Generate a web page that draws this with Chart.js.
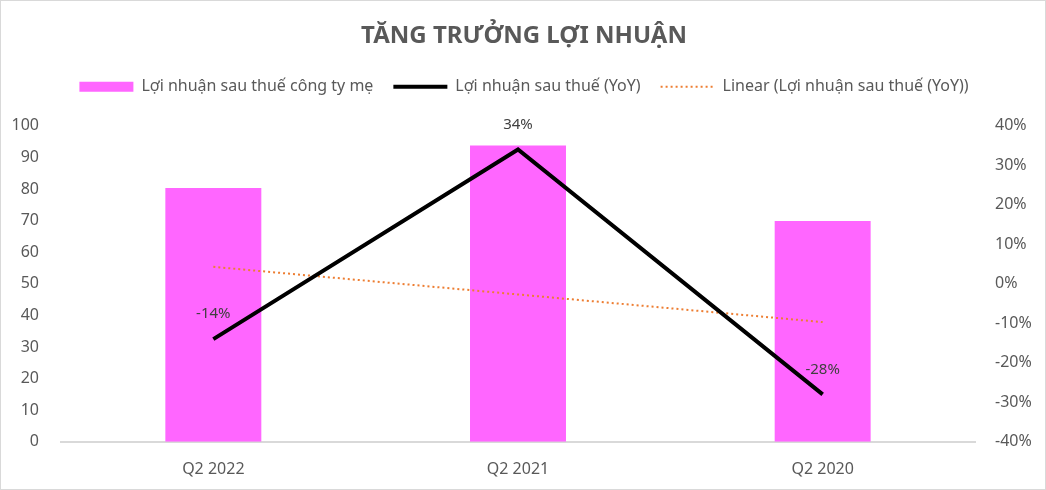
<!DOCTYPE html>
<html>
<head>
<meta charset="utf-8">
<script src="https://cdn.jsdelivr.net/npm/chart.js@4.4.0/dist/chart.umd.min.js"></script>
<style>
  html, body { margin: 0; padding: 0; background: #fff; }
  #wrap { width: 1044px; height: 488px; border: 1px solid #d9d9d9; }
</style>
</head>
<body>
<div id="wrap"><canvas id="myChart" width="1044" height="488"></canvas></div>
<script>
// data
const quarters = ['Q2 2022', 'Q2 2021', 'Q2 2020'];
const profitParent = [80.3, 93.8, 69.9];
const profitYoY = [-14, 34, -28];
const trendYoY = [4.3, -2.7, -9.7];
const yoyLabels = ['-14%', '34%', '-28%'];

const grey = '#595959';
Chart.defaults.font.family = '"Noto Sans", sans-serif';
Chart.defaults.color = grey;

// labels above the YoY points
const pointLabels = {
    id: 'pointLabels',
    afterDatasetsDraw(chart) {
        const ctx = chart.ctx;
        const meta = chart.getDatasetMeta(1);
        ctx.save();
        ctx.font = '15px "Noto Sans", sans-serif';
        ctx.fillStyle = '#404040';
        ctx.textAlign = 'center';
        ctx.textBaseline = 'middle';
        meta.data.forEach((pt, i) => {
            ctx.fillText(yoyLabels[i], pt.x, pt.y - 25);
        });
        ctx.restore();
    }
};

// some room under the legend
const legendGap = {
    id: 'legendGap',
    beforeInit(chart) {
        const fit = chart.legend.fit;
        chart.legend.fit = function () {
            fit.call(this);
            this.height += 21;
        };
    }
};

const myChart = document.getElementById('myChart');
new Chart(myChart, {
    type: 'bar',
    data: {
        labels: quarters,
        datasets: [{
            label: 'Lợi nhuận sau thuế công ty mẹ',
            data: profitParent,
            backgroundColor: '#FF66FF',
            barPercentage: 0.63,
            categoryPercentage: 0.5,
            yAxisID: 'y',
            order: 3
        }, {
            type: 'line',
            label: 'Lợi nhuận sau thuế (YoY)',
            data: profitYoY,
            borderColor: '#000',
            backgroundColor: '#000',
            borderWidth: 4,
            pointRadius: 0,
            tension: 0,
            yAxisID: 'y1',
            order: 1
        }, {
            type: 'line',
            label: 'Linear (Lợi nhuận sau thuế (YoY))',
            data: trendYoY,
            borderColor: '#ED7D31',
            backgroundColor: '#ED7D31',
            borderWidth: 2,
            borderDash: [2, 3],
            pointRadius: 0,
            tension: 0,
            yAxisID: 'y1',
            order: 2
        }]
    },
    options: {
        responsive: false,
        animation: false,
        layout: { padding: { left: 6, right: 4, top: 11, bottom: 0 } },
        plugins: {
            title: {
                display: true,
                text: 'TĂNG TRƯỞNG LỢI NHUẬN',
                color: grey,
                font: { size: 24, weight: 'bold' },
                padding: { top: 10, bottom: 8 }
            },
            legend: {
                labels: {
                    color: grey,
                    font: { size: 16 },
                    usePointStyle: true,
                    pointStyleWidth: 54,
                    boxHeight: 10,
                    padding: 20,
                    generateLabels(chart) {
                        const items = Chart.defaults.plugins.legend.labels.generateLabels(chart);
                        items.sort((a, b) => a.datasetIndex - b.datasetIndex);
                        items.forEach(it => {
                            const ds = chart.data.datasets[it.datasetIndex];
                            it.pointStyle = ds.type === 'line' ? 'line' : 'rect';
                            it.lineWidth = ds.type === 'line' ? ds.borderWidth : 0;
                            it.lineDash = ds.borderDash || [];
                            it.strokeStyle = ds.borderColor || ds.backgroundColor;
                        });
                        return items;
                    }
                }
            },
            tooltip: { enabled: false }
        },
        scales: {
            x: {
                grid: { display: false },
                border: { display: true, color: '#d9d9d9', width: 2 },
                ticks: { color: grey, font: { size: 16 }, padding: 10 }
            },
            y: {
                position: 'left',
                min: 0,
                max: 100,
                grid: { display: false },
                border: { display: false },
                ticks: { stepSize: 10, color: grey, font: { size: 16 }, padding: 14 },
                afterFit(scale) { scale.width = 54; }
            },
            y1: {
                position: 'right',
                min: -40,
                max: 40,
                grid: { display: false },
                border: { display: false },
                ticks: {
                    stepSize: 10,
                    color: grey,
                    font: { size: 16 },
                    padding: 12,
                    callback: v => v + '%'
                },
                afterFit(scale) { scale.width = 66; }
            }
        }
    },
    plugins: [pointLabels, legendGap]
});
</script>
</body>
</html>
